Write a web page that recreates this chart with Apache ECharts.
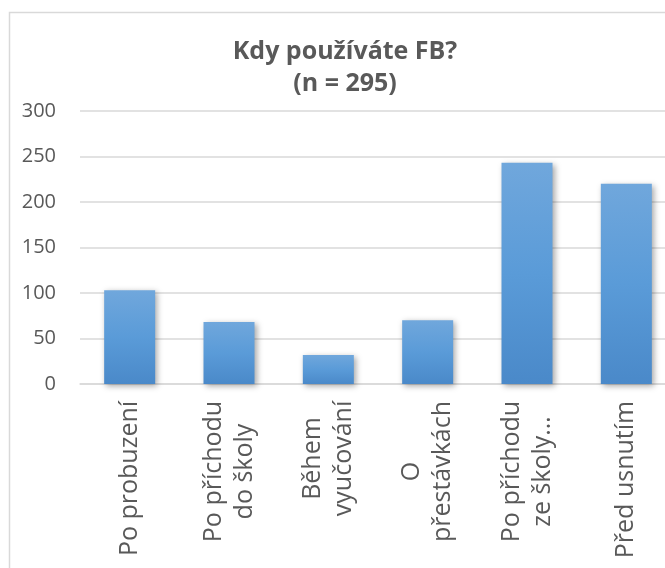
<!DOCTYPE html>
<html>
<head>
<meta charset="utf-8">
<script src="https://cdn.jsdelivr.net/npm/echarts@6/dist/echarts.min.js"></script>
<style>
html,body{margin:0;padding:0;background:#fff;overflow:hidden;width:665px;height:568px;}
#chart{width:700px;height:620px;}
</style>
</head>
<body>
<div id="chart"></div>
<script>
var titleText = 'Kdy používáte FB?\n(n = 295)';
var categories = ['Po probuzení', 'Po příchodu\ndo školy', 'Během\nvyučování', 'O\npřestávkách', 'Po příchodu\nze školy…', 'Před usnutím'];
var values = [103, 68, 32, 70, 243, 220];
var yTicks = [0, 50, 100, 150, 200, 250, 300];

var FONT = '"Open Sans", sans-serif';
var LABEL_SIZE = 25;

// measure lines to centre multi-line labels
var cv = document.createElement('canvas').getContext('2d');
cv.font = LABEL_SIZE + 'px ' + FONT;
var rich = {};
categories.forEach(function (c, i) {
  var w = 0;
  c.split('\n').forEach(function (l) { w = Math.max(w, cv.measureText(l).width); });
  rich['w' + i] = { width: Math.ceil(w) + 1, align: 'center', fontSize: LABEL_SIZE, fontFamily: FONT, color: '#595959', lineHeight: 31 };
});

var chart = echarts.init(document.getElementById('chart'), null, { renderer: 'canvas' });
chart.setOption({
  animation: false,
  backgroundColor: '#ffffff',
  title: {
    text: titleText,
    left: 340,
    top: 31,
    textAlign: 'center',
    textStyle: { fontFamily: FONT, fontWeight: 'bold', fontSize: 25, color: '#595959', lineHeight: 32 }
  },
  graphic: [{
    type: 'rect',
    shape: { x: 9.5, y: 12.5, width: 700, height: 620 },
    style: { fill: 'none', stroke: '#d9d9d9', lineWidth: 1.5 },
    silent: true
  }],
  grid: { left: 80, top: 111, width: 596, height: 273, containLabel: false },
  xAxis: {
    type: 'category',
    data: categories,
    axisLine: { show: true, lineStyle: { color: '#d9d9d9', width: 1.5 } },
    axisTick: { show: false },
    axisLabel: {
      rotate: 90,
      interval: 0,
      margin: 16,
      formatter: function (v, i) {
        return v.split('\n').map(function (l) { return '{w' + i + '|' + l + '}'; }).join('\n');
      },
      rich: rich
    }
  },
  yAxis: {
    type: 'value',
    min: yTicks[0],
    max: yTicks[yTicks.length - 1],
    interval: 50,
    axisLine: { show: false },
    axisTick: { show: false },
    splitLine: { lineStyle: { color: '#d9d9d9', width: 1.5 } },
    axisLabel: { fontFamily: FONT, fontSize: 20, color: '#595959', margin: 24 }
  },
  series: [{
    type: 'bar',
    data: values,
    barWidth: 51,
    itemStyle: {
      color: new echarts.graphic.LinearGradient(0, 0, 0, 1, [
        { offset: 0, color: '#70a7dc' },
        { offset: 0.5, color: '#5a9bd8' },
        { offset: 1, color: '#4a89c9' }
      ]),
      shadowBlur: 6,
      shadowColor: 'rgba(0,0,0,0.35)',
      shadowOffsetX: 2,
      shadowOffsetY: 2
    }
  }]
});
</script>
</body>
</html>
